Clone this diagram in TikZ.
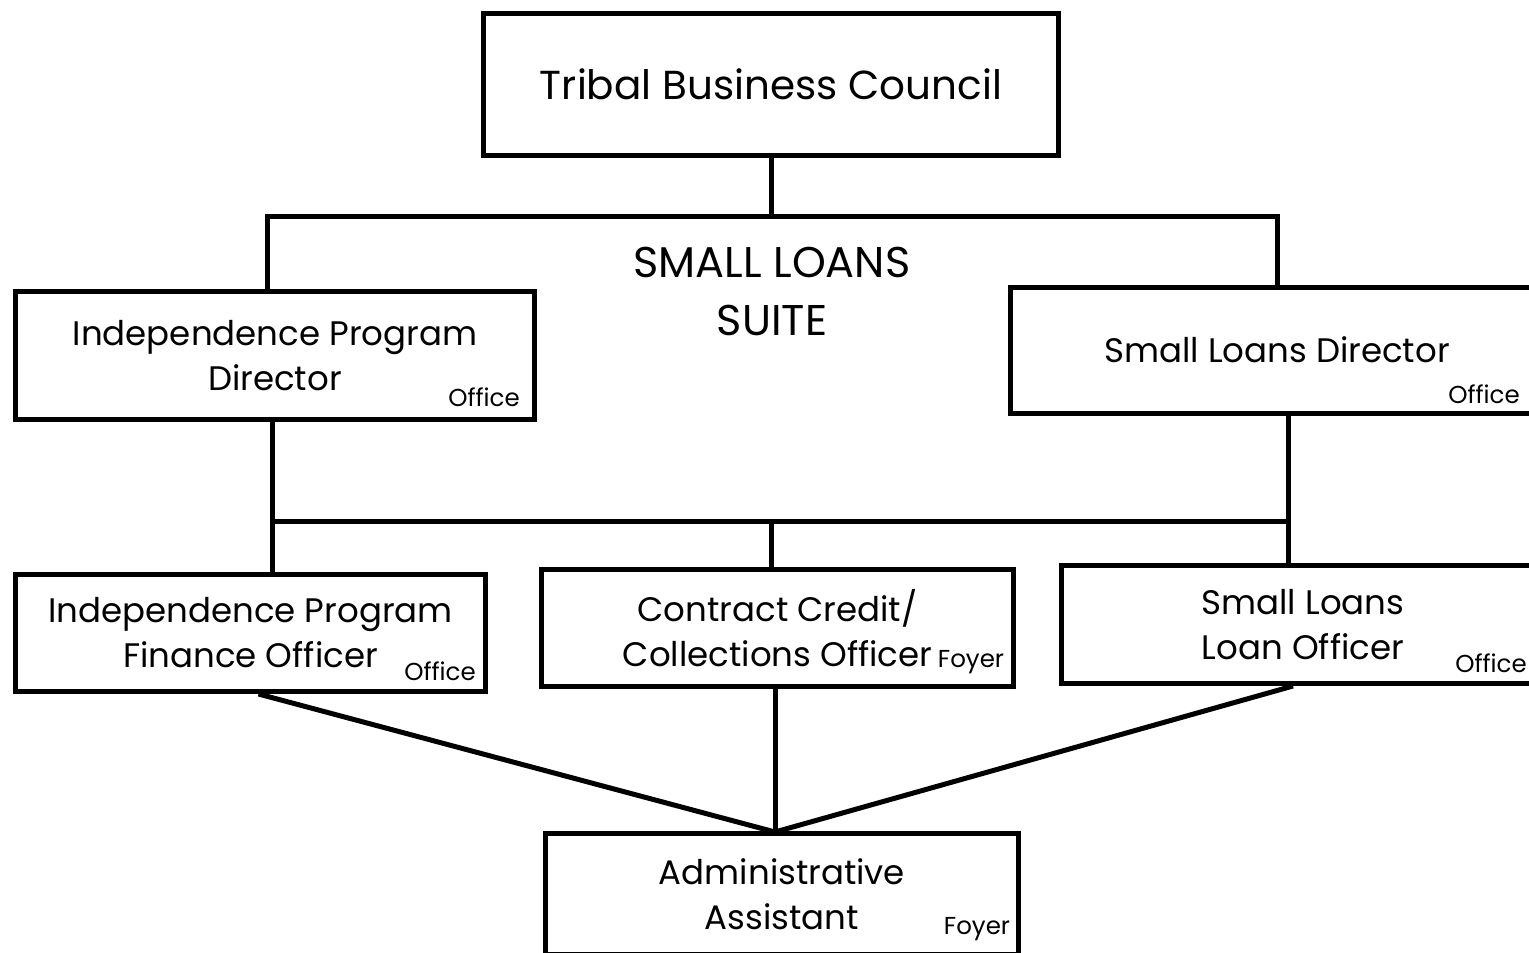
\documentclass[tikz,border=0pt]{standalone}
\usepackage{fontspec}
\usetikzlibrary{calc}
\setmainfont{Poppins}
\begin{document}
\begin{tikzpicture}[x=1pt,y=-1pt,
  box/.style={draw, line width=5pt, rectangle, inner sep=0pt, align=center,
              font=\fontsize{34}{45}\selectfont},
  tag/.style={inner sep=0pt, font=\fontsize{24.5}{28}\selectfont},
  link/.style={line width=5pt}]
\useasboundingbox (0,0) rectangle (1529,953);
\clip (0,0) rectangle (1529,953);

% boxes
\node[box, minimum width=575pt, minimum height=142pt, font=\fontsize{40.5}{50}\selectfont]
  (tbc) at (771,84) {Tribal Business Council};
\node[box, minimum width=519pt, minimum height=128pt] (ipd) at (275,355.5)
  {Independence Program\\Director};
\node[box, minimum width=534pt, minimum height=126pt] (sld) at (1277,350)
  {Small Loans Director};
\node[box, minimum width=470pt, minimum height=117pt] (fo) at (250.5,633)
  {Independence Program\\Finance Officer};
\node[box, minimum width=472pt, minimum height=117pt] (cc) at (777.5,628)
  {Contract Credit/\\Collections Officer};
\node[box, minimum width=484pt, minimum height=118pt] (sllo) at (1303,624.5)
  {Small Loans\\Loan Officer};
\node[box, minimum width=473pt, minimum height=121pt] (aa) at (782,894)
  {Administrative\\Assistant};

% suite heading
\node[inner sep=0pt, align=center, font=\fontsize{43}{58}\selectfont]
  (suite) at (772,291) {SMALL LOANS\\SUITE};

% location tags
\node[tag] (t1) at (484,397) {Office};
\node[tag] (t2) at (1484,394) {Office};
\node[tag] (t3) at (440,671) {Office};
\node[tag] (t4) at (971,662) {Foyer};
\node[tag] (t5) at (1491,663) {Office};
\node[tag] (t6) at (977,929) {Foyer};

% bus bars
\coordinate (topL) at (267,216);
\coordinate (topR) at (1277,216);
\coordinate (midL) at (272,521);
\coordinate (midC) at (771,521);
\coordinate (midR) at (1288,521);
\coordinate (join) at (775,832);

% connectors
\draw[link] (tbc.south) -- (tbc.south |- topL);
\draw[link] (ipd.north -| topL) -- (topL) -- (topR) -- (sld.north -| topR);
\draw[link] (ipd.south -| midL) -- (fo.north -| midL);
\draw[link] (sld.south -| midR) -- (sllo.north -| midR);
\draw[link] (midL) -- (midR);
\draw[link] (midC) -- (cc.north -| midC);
\draw[link] ($(fo.south)+(8,0)$) -- (join);
\draw[link] (cc.south -| join) -- (join);
\draw[link] ($(sllo.south)+(-10,0)$) -- (join);
\end{tikzpicture}
\end{document}
